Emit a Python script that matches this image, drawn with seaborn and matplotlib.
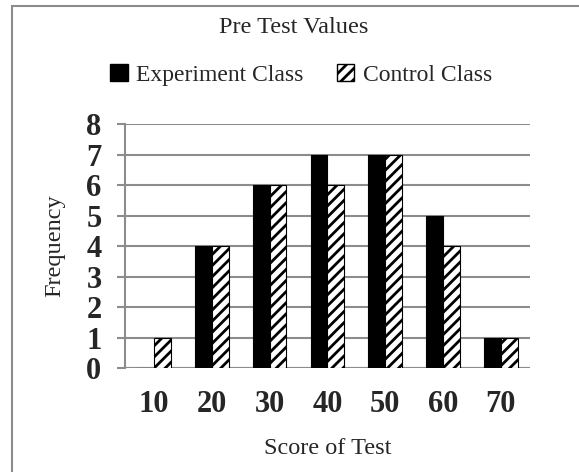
import pandas as pd
import matplotlib
matplotlib.use("Agg")
import matplotlib.pyplot as plt
import matplotlib.patches as mpatches
import seaborn as sns

# Data
scores = ["10", "20", "30", "40", "50", "60", "70"]
experiment_class = [0, 4, 6, 7, 7, 5, 1]
control_class = [1, 4, 6, 6, 7, 4, 1]
groups = ["Experiment Class", "Control Class"]
y_ticks = [0, 1, 2, 3, 4, 5, 6, 7, 8]

sns.set_theme(style="white")
plt.rcParams['font.family'] = ['Liberation Serif', 'DejaVu Serif']
plt.rcParams['hatch.linewidth'] = 2.0
plt.rcParams['hatch.color'] = 'black'

df = pd.DataFrame({
    "score": scores * 2,
    "freq": experiment_class + control_class,
    "group": [groups[0]] * len(scores) + [groups[1]] * len(scores),
})

fig = plt.figure(figsize=(5.79, 4.72), dpi=100)
ax = fig.add_axes([0.216, 0.2203, 0.699, 0.5167])

sns.barplot(data=df, x="score", y="freq", hue="group", order=scores,
            hue_order=groups, palette=["black", "white"], width=0.58,
            edgecolor="black", linewidth=0.8, legend=False, ax=ax)

# hatch the control bars
n = len(scores)
for i, bar in enumerate(ax.patches[:2 * n]):
    if i >= n:
        bar.set_hatch("///")

ax.set_ylim(0, 8)
ax.set_xlim(-0.5, 6.5)
ax.set_yticks(y_ticks)
ax.yaxis.grid(True, color="#8c8c8c", linewidth=1.5)
ax.set_axisbelow(True)
for s in ["top", "right", "bottom"]:
    ax.spines[s].set_visible(False)
ax.spines["left"].set_color("#8c8c8c")
ax.spines["left"].set_linewidth(1.5)
ax.axhline(0, color="#8c8c8c", linewidth=1.5, zorder=0.5)

ax.tick_params(axis="y", left=True, length=6, width=1.5, color="#8c8c8c", pad=11)
ax.tick_params(axis="x", bottom=False, pad=10)
for lab in ax.get_yticklabels() + ax.get_xticklabels():
    lab.set_fontweight("bold")
    lab.set_fontsize(22)

ax.set_xlabel("Score of Test", fontsize=17.5)
ax.set_ylabel("Frequency", fontsize=17.5)
ax.xaxis.set_label_coords(0.5, -0.286)
ax.yaxis.set_label_coords(-0.148, 0.5)

fig.text(0.508, 0.941, "Pre Test Values", ha="center", va="center", fontsize=17.5)

handles = [mpatches.Patch(facecolor="black", edgecolor="black", label=groups[0]),
           mpatches.Patch(facecolor="white", edgecolor="black", hatch="///", label=groups[1])]
fig.legend(handles=handles, loc="center", bbox_to_anchor=(0.52, 0.841), ncol=2,
           frameon=False, fontsize=17, handlelength=0.75, handleheight=0.75,
           handletextpad=0.35, columnspacing=1.4, borderpad=0)

# outer frame (only left and top visible in reference)
frame = mpatches.Rectangle((12 / 579, -0.1), 1.2, 1 - 6 / 472 + 0.1, transform=fig.transFigure,
                           fill=False, edgecolor="#8c8c8c", linewidth=1.5)
fig.patches.append(frame)

fig.savefig("out.png", dpi=100)
plt.close(fig)
